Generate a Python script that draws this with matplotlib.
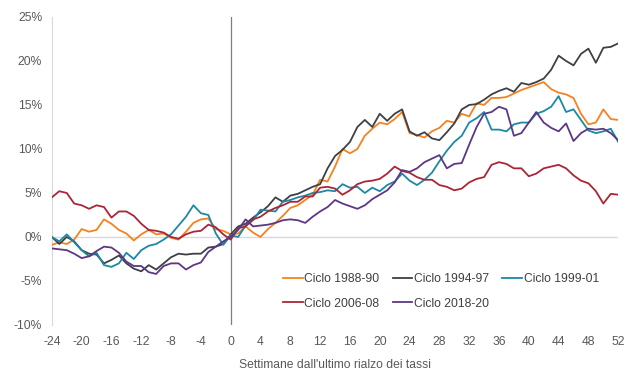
import numpy as np
import matplotlib
matplotlib.use("Agg")
import matplotlib.pyplot as plt
from matplotlib.ticker import FuncFormatter

plt.rcParams["font.family"] = ["Liberation Sans", "DejaVu Sans"]
plt.rcParams["axes.unicode_minus"] = False

# weeks relative to the last rate hike
WEEKS = np.arange(-24, 53)

# cumulative performance (%), one value per week
CICLO_1988_90 = [
    -0.9, -0.6, -0.8, -0.3, 0.9, 0.6, 0.8, 2.0, 1.5, 0.8, 0.4, -0.4, 0.3,
    0.8, 0.3, 0.4, -0.1, -0.3, 0.6, 1.6, 2.0, 2.1, 0.9, 0.7, 0.3,
    0.4, 1.2, 0.5, 0.0, 0.9, 1.6, 2.4, 3.3, 3.6, 4.2, 4.8, 6.5, 6.3,
    8.0, 10.0, 9.5, 10.0, 11.5, 12.3, 13.0, 12.8, 13.4, 14.2, 11.8, 11.6,
    11.3, 12.0, 12.4, 13.2, 13.0, 14.0, 13.7, 15.2, 15.0, 15.8, 15.8, 15.9,
    16.3, 16.7, 17.0, 17.3, 17.6, 16.8, 16.4, 16.2, 15.8, 14.0, 12.8, 13.0,
    14.5, 13.4, 13.3,
]
CICLO_1994_97 = [
    0.0, -0.8, 0.0, -0.5, -1.5, -1.9, -2.0, -3.0, -2.6, -2.1, -3.0, -3.6, -3.9,
    -3.2, -3.7, -3.0, -2.3, -1.9, -2.0, -1.9, -1.9, -1.2, -1.1, -0.8, 0.3,
    1.2, 1.5, 2.2, 2.8, 3.5, 4.5, 4.0, 4.7, 4.9, 5.3, 5.7, 6.0, 7.8,
    9.2, 9.9, 10.8, 12.5, 13.3, 12.5, 14.0, 13.2, 14.0, 14.5, 12.0, 11.5,
    11.9, 11.2, 11.0, 11.9, 12.9, 14.5, 15.0, 15.1, 15.6, 16.2, 16.6, 16.9,
    16.5, 17.5, 17.3, 17.6, 18.0, 19.0, 20.6, 20.0, 19.5, 20.8, 21.4, 19.8,
    21.5, 21.6, 22.0,
]
CICLO_1999_01 = [
    0.0, -0.5, 0.3, -0.6, -1.5, -2.2, -1.8, -3.2, -3.4, -3.0, -1.8, -2.5, -1.5,
    -1.0, -0.8, -0.3, 0.3, 1.3, 2.3, 3.6, 2.7, 2.5, 0.4, -0.9, 0.2,
    0.0, 1.3, 1.9, 3.1, 3.0, 2.9, 4.0, 4.2, 4.5, 4.7, 5.0, 5.1, 5.3,
    5.2, 6.0, 5.6, 5.7, 5.0, 5.6, 5.2, 5.9, 6.3, 7.2, 6.4, 5.9,
    6.5, 7.3, 8.6, 9.8, 10.8, 11.5, 13.0, 13.5, 14.2, 12.2, 12.2, 12.0,
    12.8, 13.0, 13.0, 14.0, 14.3, 14.8, 16.0, 14.2, 14.5, 13.3, 12.1, 11.8,
    12.0, 12.3, 10.8,
]
CICLO_2006_08 = [
    4.5, 5.2, 5.0, 3.8, 3.6, 3.2, 3.6, 3.4, 2.2, 2.9, 2.9, 2.4, 1.5,
    0.8, 0.7, 0.5, 0.0, -0.2, 0.3, 0.6, 0.7, 1.4, 1.1, 0.3, -0.3,
    1.0, 1.2, 2.0, 2.3, 2.9, 3.3, 3.6, 4.0, 4.0, 4.6, 4.6, 5.6, 5.7,
    5.5, 4.8, 5.3, 6.0, 6.3, 6.4, 6.6, 7.2, 8.0, 7.5, 7.3, 6.8,
    6.5, 6.5, 5.9, 5.7, 5.3, 5.5, 6.2, 6.6, 6.8, 8.2, 8.5, 8.3,
    7.8, 7.8, 6.9, 7.2, 7.8, 8.0, 8.2, 7.8, 7.0, 6.4, 6.1, 5.2,
    3.8, 4.9, 4.8,
]
CICLO_2018_20 = [
    -1.3, -1.4, -1.5, -1.9, -2.4, -2.2, -1.6, -1.1, -1.2, -1.8, -2.8, -3.3, -3.3,
    -4.0, -4.2, -3.3, -3.0, -3.0, -3.7, -3.2, -2.9, -1.7, -1.1, -0.5, 0.0,
    0.8, 2.0, 1.2, 1.3, 1.4, 1.6, 1.9, 2.0, 1.9, 1.6, 2.3, 2.9, 3.4,
    4.2, 3.8, 3.5, 3.2, 3.6, 4.3, 4.8, 5.3, 6.2, 7.6, 7.4, 7.8,
    8.5, 8.9, 9.3, 7.8, 8.3, 8.4, 10.5, 12.5, 14.0, 14.2, 14.8, 14.5,
    11.5, 11.8, 13.0, 14.2, 13.0, 12.4, 12.0, 12.9, 10.9, 11.8, 12.3, 12.2,
    12.3, 11.8, 11.0,
]

SERIES = [
    ("Ciclo 1988-90", CICLO_1988_90, "#F5821F"),
    ("Ciclo 1994-97", CICLO_1994_97, "#3F4046"),
    ("Ciclo 1999-01", CICLO_1999_01, "#1C88A4"),
    ("Ciclo 2006-08", CICLO_2006_08, "#AC2437"),
    ("Ciclo 2018-20", CICLO_2018_20, "#5C3785"),
]

fig = plt.figure(figsize=(6.4, 3.77), dpi=100)
ax = fig.add_axes([0.081, 0.138, 0.885, 0.817])

ax.axhline(0, color="#D9D9D9", lw=1.0, zorder=1)
ax.axvline(0, color="#7F7F7F", lw=0.9, zorder=1)

handles = []
for name, vals, col in SERIES:
    h, = ax.plot(WEEKS, vals, color=col, lw=1.3, label=name, zorder=3)
    handles.append(h)

ax.set_xlim(-24, 52)
ax.set_ylim(-10, 25)
ax.set_xticks(np.arange(-24, 53, 4))
ax.set_yticks(np.arange(-10, 26, 5))
ax.yaxis.set_major_formatter(FuncFormatter(lambda v, _: f"{v:.0f}%"))

for s in ("top", "right", "bottom"):
    ax.spines[s].set_visible(False)
ax.spines["left"].set_color("#D9D9D9")
ax.tick_params(length=0, labelsize=8.7, colors="#595959")
ax.tick_params(axis="x", pad=8)
ax.tick_params(axis="y", pad=7)

ax.set_xlabel("Settimane dall'ultimo rialzo dei tassi", fontsize=8.7,
              color="#595959", labelpad=8)

# legend fills row by row in the reference: reorder for column-major layout
order = [0, 3, 1, 4, 2]
leg = ax.legend([handles[i] for i in order], [SERIES[i][0] for i in order],
                loc="upper left", bbox_to_anchor=(0.40, 0.183), ncol=3,
                frameon=False, fontsize=8.7, handlelength=1.6,
                handletextpad=0.15, columnspacing=1.1, labelspacing=1.0,
                borderaxespad=0)
for t in leg.get_texts():
    t.set_color("#404040")

fig.savefig("out.png", dpi=100)
